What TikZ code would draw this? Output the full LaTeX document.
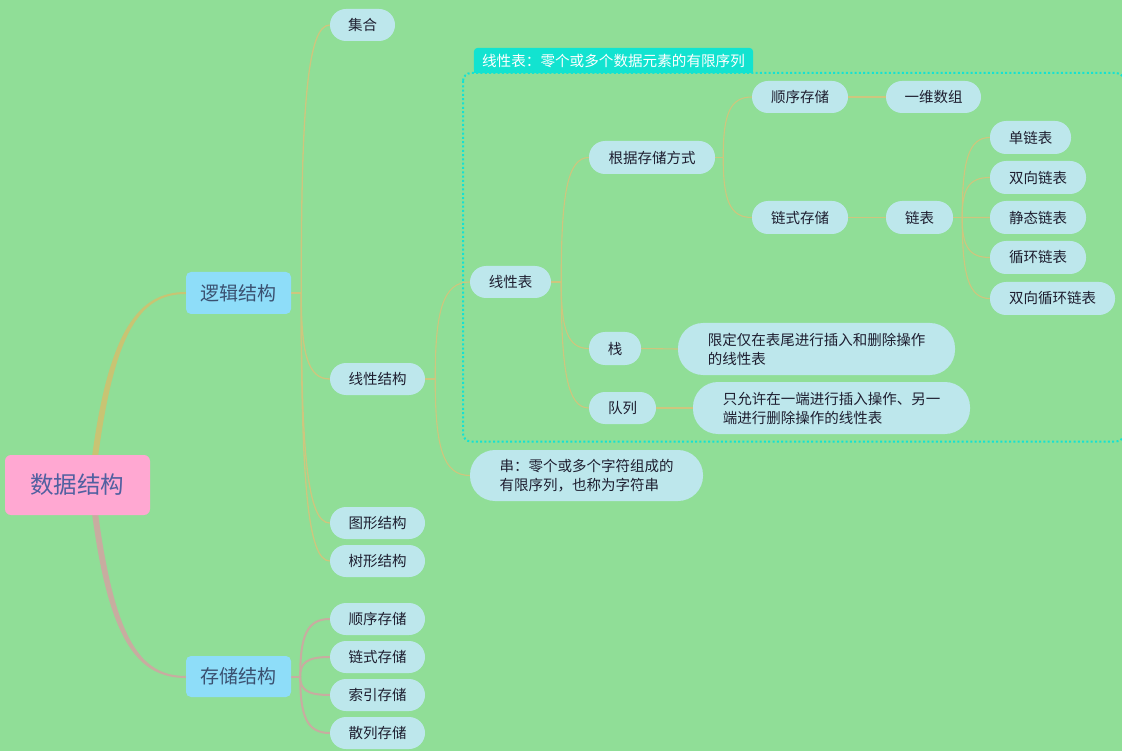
\documentclass[tikz,border=0pt]{standalone}
\usepackage{fontspec}
\newfontfamily\cjk{Noto Sans CJK SC}
\usetikzlibrary{calc}
\pgfdeclarelayer{back}
\pgfdeclarelayer{bg}
\pgfsetlayers{back,bg,main}
\definecolor{bgc}{RGB}{144,222,151}
\definecolor{nodec}{RGB}{189,231,236}
\definecolor{txtc}{RGB}{30,30,48}
\definecolor{rootc}{RGB}{255,168,210}
\definecolor{roottxt}{RGB}{80,96,160}
\definecolor{mainc}{RGB}{142,221,249}
\definecolor{maintxt}{RGB}{58,80,112}
\definecolor{labc}{RGB}{18,227,208}
\definecolor{tanc}{RGB}{206,198,126}
\definecolor{pinkc}{RGB}{200,172,160}
\definecolor{upc}{RGB}{200,196,115}
\definecolor{dotc}{RGB}{20,226,210}
\tikzset{
  pill/.style={draw=none, fill=nodec, rounded corners=16pt, minimum height=32pt, inner sep=0pt, text=txtc, font=\cjk\fontsize{14.5}{19}\selectfont},
  pill2/.style={pill, rounded corners=25pt, minimum height=52pt, align=left},
  mainbox/.style={draw=none, fill=mainc, rounded corners=5pt, minimum width=105pt, minimum height=42pt, inner sep=0pt, text=maintxt, font=\cjk\fontsize{19}{22}\selectfont},
  conn/.style={draw=tanc, line width=1.1pt},
  pconn/.style={draw=pinkc, line width=2pt},
  mm/.style={to path={.. controls ($(\tikztostart)!0.7!(\tikztostart|-\tikztotarget)$) and ($(\tikztotarget)!0.78!(\tikztostart|-\tikztotarget)$) .. (\tikztotarget)}}
}
\begin{document}
\begin{tikzpicture}[x=1pt,y=-1pt]
\begin{pgfonlayer}{back}
\fill[bgc] (0,0) rectangle (1122,751);
\end{pgfonlayer}
\useasboundingbox (0,0) rectangle (1122,751);

% root and main branches
\node[draw=none, fill=rootc, rounded corners=6pt, minimum width=145pt, minimum height=60pt, inner sep=0pt, text=roottxt, font=\cjk\fontsize{23.5}{26}\selectfont] (root) at (77.5,485) {数据结构};
\node[mainbox] (lj) at (238.5,293) {逻辑结构};
\node[mainbox, minimum height=41pt] (cc) at (238.5,676.5) {存储结构};

% logical structure children
\node[pill, minimum width=65pt] (jihe) at (362.5,25) {集合};
\node[pill, minimum width=95pt] (xxjg) at (377.5,379) {线性结构};
\node[pill, minimum width=95pt] (txjg) at (377.5,523) {图形结构};
\node[pill, minimum width=95pt] (sxjg) at (377.5,561) {树形结构};

% storage children
\node[pill, minimum width=95pt] (s1) at (377.5,619) {顺序存储};
\node[pill, minimum width=95pt] (s2) at (377.5,657) {链式存储};
\node[pill, minimum width=95pt] (s3) at (377.5,695) {索引存储};
\node[pill, minimum width=95pt] (s4) at (377.5,733) {散列存储};

% boundary label
\node[draw=none, minimum width=279pt, minimum height=25pt, inner sep=0pt, text=white, font=\cjk\fontsize{14.6}{18}\selectfont] (lab) at (613.5,60.5) {线性表：零个或多个数据元素的有限序列};

% linear list subtree
\node[pill, minimum width=81pt] (xxb) at (510.5,282) {线性表};
\node[pill2, minimum width=233pt, minimum height=51pt] (chuan) at (586.5,475.5) {串：零个或多个字符组成的\\有限序列，也称为字符串};
\node[pill, minimum width=126pt, minimum height=33pt] (gen) at (652,157.5) {根据存储方式};
\node[pill, minimum width=52pt, minimum height=33pt] (zhan) at (615,348.5) {栈};
\node[pill, minimum width=67pt] (dl) at (622.5,408) {队列};
\node[pill2, minimum width=277pt] (zd) at (816.5,349) {限定仅在表尾进行插入和删除操作\\的线性表};
\node[pill2, minimum width=277pt] (dd) at (831.5,408) {只允许在一端进行插入操作、另一\\端进行删除操作的线性表};
\node[pill, minimum width=96pt] (sx) at (800,97) {顺序存储};
\node[pill, minimum width=95pt] (yw) at (933.5,97) {一维数组};
\node[pill, minimum width=96pt, minimum height=33pt] (ls) at (800,217.5) {链式存储};
\node[pill, minimum width=67pt, minimum height=33pt] (lb) at (919.5,217.5) {链表};
\node[pill, minimum width=81pt, minimum height=33pt] (d1) at (1030.5,137.5) {单链表};
\node[pill, minimum width=96pt, minimum height=33pt] (d2) at (1038,177.5) {双向链表};
\node[pill, minimum width=96pt, minimum height=33pt] (d3) at (1038,217.5) {静态链表};
\node[pill, minimum width=96pt, minimum height=33pt] (d4) at (1038,257.5) {循环链表};
\node[pill, minimum width=125pt, minimum height=33pt] (d5) at (1052.5,298.5) {双向循环链表};

% junction points
\coordinate (ljj) at ($(lj.east)+(10,0)$);
\coordinate (ccj) at ($(cc.east)+(9,0)$);
\coordinate (xj) at ($(xxjg.east)+(10,0)$);
\coordinate (xbj) at ($(xxb.east)+(10,0)$);
\coordinate (gj) at ($(gen.east)+(8,0)$);
\coordinate (lbj) at ($(lb.east)+(9,0)$);

\begin{pgfonlayer}{bg}
% boundary
\draw[dotc, line width=2pt, dash pattern=on 2pt off 2.3pt, rounded corners=8pt] (463,73) rectangle (1124,441.5);
\fill[labc, rounded corners=4pt] (lab.south west) rectangle (lab.north east);
\fill[labc] (lab.south west) rectangle (lab.east);

% root connectors (tapered)
\fill[upc] ($(root.north)+(14.5,2)$) .. controls ($(root.north)+(31.5,-125)$) and ($(lj.west)+(-47,-1)$) .. ($(lj.west)+(0,-1)$)
  -- ($(lj.west)+(0,1)$) .. controls ($(lj.west)+(-45,1)$) and ($(root.north)+(37.5,-125)$) .. ($(root.north)+(20.5,2)$) -- cycle;
\fill[pinkc] ($(root.south)+(14.5,-2)$) .. controls ($(root.south)+(31.5,127)$) and ($(cc.west)+(-47,1.5)$) .. ($(cc.west)+(0,1.5)$)
  -- ($(cc.west)+(0,-0.5)$) .. controls ($(cc.west)+(-45,-0.5)$) and ($(root.south)+(37.5,125)$) .. ($(root.south)+(20.5,-2)$) -- cycle;

% logical structure
\draw[conn, line width=1.3pt] (lj.east) -- (ljj);
\draw[conn, line width=1.3pt] (ljj) to[mm] (jihe.west);
\draw[conn, line width=1.3pt] (ljj) to[mm] (xxjg.west);
\draw[conn, line width=1.3pt] (ljj) to[mm] (txjg.west);
\draw[conn, line width=1.3pt] (ljj) to[mm] (sxjg.west);

% storage
\draw[pconn] (cc.east) -- (ccj);
\draw[pconn] (ccj) to[mm] (s1.west);
\draw[pconn] (ccj) to[mm] (s2.west);
\draw[pconn] (ccj) to[mm] (s3.west);
\draw[pconn] (ccj) to[mm] (s4.west);

% linear structure
\draw[conn] (xxjg.east) -- (xj);
\draw[conn] (xj) to[mm] (xxb.west);
\draw[conn] (xj) to[mm] (chuan.west);
\draw[conn] (xxb.east) -- (xbj);
\draw[conn] (xbj) to[mm] (gen.west);
\draw[conn] (xbj) to[mm] (zhan.west);
\draw[conn] (xbj) to[mm] (dl.west);
\draw[conn] (gen.east) -- (gj);
\draw[conn] (gj) to[mm] (sx.west);
\draw[conn] (gj) to[mm] (ls.west);
\draw[conn] (sx.east) -- (yw.west);
\draw[conn] (ls.east) -- (lb.west);
\draw[conn] (zhan.east) -- (zd.west);
\draw[conn] (dl.east) -- (dd.west);
\draw[conn] (lb.east) -- (lbj);
\draw[conn] (lbj) to[mm] (d1.west);
\draw[conn] (lbj) to[mm] (d2.west);
\draw[conn] (lbj) to[mm] (d3.west);
\draw[conn] (lbj) to[mm] (d4.west);
\draw[conn] (lbj) to[mm] (d5.west);
\end{pgfonlayer}
\end{tikzpicture}
\end{document}
